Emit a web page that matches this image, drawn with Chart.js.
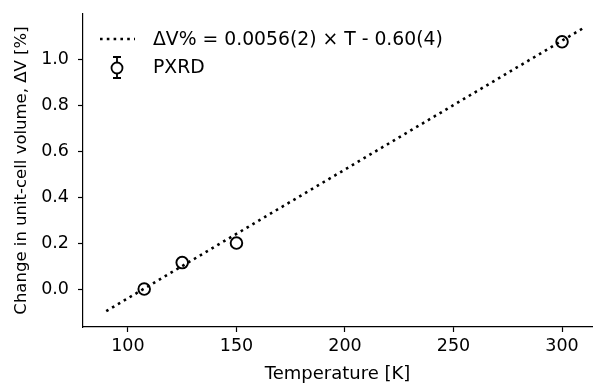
<!DOCTYPE html>
<html>
<head>
<meta charset="utf-8">
<script src="https://cdn.jsdelivr.net/npm/chart.js@4"></script>
<style>
  html, body { margin: 0; padding: 0; background: #fff; }
  #wrap { width: 593px; height: 384px; }
</style>
</head>
<body>
<div id="wrap"><canvas id="myChart" width="593" height="384"></canvas></div>
<script>
// data
const tempK = [107.5, 125, 150, 300];
const dV = [0.0, 0.115, 0.2, 1.075];
const dVerr = [0.01, 0.01, 0.01, 0.01];
const fitT = [90, 310];
const fitDV = [-0.096, 1.136];
const xTicks = [100, 150, 200, 250, 300];
const yTicks = [0.0, 0.2, 0.4, 0.6, 0.8, 1.0];

const font = "DejaVu Sans";

// error bars under the markers
const errorBars = {
  id: "errorBars",
  beforeDatasetsDraw(chart) {
    const c = chart.ctx, xs = chart.scales.x, ys = chart.scales.y;
    c.save();
    c.strokeStyle = "#000";
    c.lineWidth = 1.5;
    tempK.forEach((t, i) => {
      const px = xs.getPixelForValue(t);
      const y1 = ys.getPixelForValue(dV[i] - dVerr[i]);
      const y2 = ys.getPixelForValue(dV[i] + dVerr[i]);
      c.beginPath();
      c.moveTo(px, y1); c.lineTo(px, y2);
      c.moveTo(px - 4, y1); c.lineTo(px + 4, y1);
      c.moveTo(px - 4, y2); c.lineTo(px + 4, y2);
      c.stroke();
    });
    c.restore();
  }
};

// legend inside the axes, upper left
const innerLegend = {
  id: "innerLegend",
  afterDraw(chart) {
    const c = chart.ctx;
    const ds = chart.data.datasets;
    c.save();
    c.fillStyle = "#000";
    c.strokeStyle = "#000";
    c.font = "18.8px '" + font + "'";
    c.textBaseline = "middle";
    // dotted line sample
    c.lineWidth = 2.6;
    c.setLineDash([2.6, 4.2]);
    c.beginPath();
    c.moveTo(100, 39); c.lineTo(135, 39);
    c.stroke();
    c.setLineDash([]);
    c.fillText(ds[0].label, 153, 40);
    // marker with error bar
    c.lineWidth = 1.8;
    c.beginPath();
    c.moveTo(117, 57); c.lineTo(117, 78);
    c.moveTo(113, 57); c.lineTo(121, 57);
    c.moveTo(113, 78); c.lineTo(121, 78);
    c.stroke();
    c.beginPath();
    c.arc(117, 68, 5.5, 0, Math.PI * 2);
    c.fillStyle = "#fff";
    c.fill();
    c.stroke();
    c.fillStyle = "#000";
    c.fillText(ds[1].label, 153, 68);
    c.restore();
  }
};

const ctx = document.getElementById("myChart").getContext("2d");
new Chart(ctx, {
  type: "scatter",
  data: {
    datasets: [
      {
        type: "line",
        label: "ΔV% = 0.0056(2) × T - 0.60(4)",
        data: fitT.map((t, i) => ({ x: t, y: fitDV[i] })),
        borderColor: "#000",
        borderWidth: 2.6,
        borderDash: [2.6, 4.2],
        pointRadius: 0,
        fill: false,
      },
      {
        label: "PXRD",
        data: tempK.map((t, i) => ({ x: t, y: dV[i] })),
        pointRadius: 5.8,
        pointBorderWidth: 1.9,
        pointBackgroundColor: "#fff",
        pointBorderColor: "#000",
      },
    ],
  },
  options: {
    responsive: false,
    animation: false,
    layout: { autoPadding: false, padding: { top: 14, right: 1, left: 0, bottom: 0 } },
    plugins: {
      legend: { display: false },
      tooltip: { enabled: false },
    },
    scales: {
      x: {
        type: "linear",
        min: 79.3,
        max: 313.8,
        afterFit(s) { s.height = 57; s.paddingRight = 0; s.paddingLeft = 0; },
        afterBuildTicks(s) { s.ticks = xTicks.map(v => ({ value: v })); },
        grid: { drawOnChartArea: false, drawTicks: true, tickLength: 5, color: "#000", tickWidth: 1.2 },
        border: { display: true, color: "#000", width: 1.2 },
        ticks: { color: "#000", font: { family: font, size: 17.5 }, padding: 4, maxRotation: 0 },
        title: { display: true, text: "Temperature [K]", color: "#000", font: { family: font, size: 18 }, padding: { top: 0, bottom: -1 } },
      },
      y: {
        type: "linear",
        min: -0.165,
        max: 1.196,
        afterFit(s) { s.width = 83; s.paddingTop = 0; s.paddingBottom = 0; },
        afterBuildTicks(s) { s.ticks = yTicks.map(v => ({ value: v })); },
        grid: { drawOnChartArea: false, drawTicks: true, tickLength: 5, color: "#000", tickWidth: 1.2 },
        border: { display: true, color: "#000", width: 1.2 },
        ticks: { color: "#000", font: { family: font, size: 17.5 }, padding: 9, callback: v => v.toFixed(1) },
        title: { display: true, text: "Change in unit-cell volume, ΔV [%]", color: "#000", font: { family: font, size: 16.5 }, padding: { top: 12, bottom: 0 } },
      },
    },
  },
  plugins: [errorBars, innerLegend],
});
</script>
</body>
</html>
